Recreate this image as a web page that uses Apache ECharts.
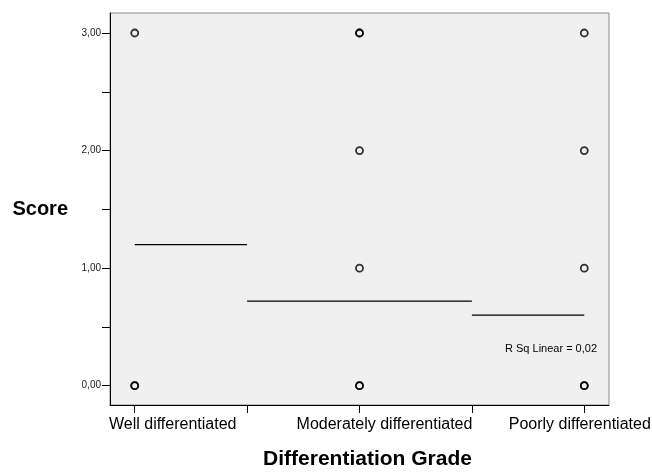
<!DOCTYPE html>
<html>
<head>
<meta charset="utf-8">
<script src="https://cdn.jsdelivr.net/npm/echarts@6/dist/echarts.min.js"></script>
<style>
  html, body { margin: 0; padding: 0; background: #fff; }
  #chart { width: 652px; height: 472px; }
</style>
</head>
<body>
<div id="chart"></div>
<script>
// categories on the x axis (positions 1, 2, 3)
const categories = ['Well differentiated', 'Moderately differentiated', 'Poorly differentiated'];
// observed scores per group (repeated values overlap)
const wellScores = [0, 0, 3];
const moderateScores = [0, 0, 1, 2, 3, 3];
const poorlyScores = [0, 0, 1, 2, 3];
// fitted level per group
const meanScores = [1.2, 0.72, 0.6];
const yTicks = [0, 1, 2, 3];
const rSqText = 'R Sq Linear = 0,02';

// scatter points: [category position, score]
const points = [];
[wellScores, moderateScores, poorlyScores].forEach((arr, i) => {
  arr.forEach(v => points.push([i + 1, v]));
});

// one horizontal segment per group
const segments = meanScores.map((m, i) => {
  const c = i + 1;
  return {
    type: 'line',
    data: [[Math.max(1, c - 0.5), m], [Math.min(categories.length, c + 0.5), m]],
    symbol: 'none',
    lineStyle: { color: '#000', width: 1.2 },
    silent: true,
    z: 3
  };
});

// label nudges so they sit like in the original figure
const labelPad = [[0, 0, 0, 76], [0, 0, 0, 50], [0, 9, 0, 0]];

const chart = echarts.init(document.getElementById('chart'));
chart.setOption({
  animation: false,
  textStyle: { fontFamily: 'Liberation Sans, Arial, sans-serif' },
  grid: {
    left: 110, right: 43, top: 13, bottom: 67,
    containLabel: false,
    outerBoundsMode: 'none',
    show: true,
    backgroundColor: '#f0f0f0',
    borderColor: '#8a8a8a',
    borderWidth: 1
  },
  xAxis: {
    type: 'value',
    min: 0.89,
    max: 3.11,
    name: 'Differentiation Grade',
    nameLocation: 'middle',
    nameGap: 44,
    nameTextStyle: {
      fontSize: 21, fontWeight: 'bold', color: '#000',
      padding: [0, 0, 0, 16]
    },
    axisLine: { onZero: false, lineStyle: { color: '#000', width: 1 } },
    axisTick: {
      show: true, length: 8, inside: false,
      customValues: [1, 1.5, 2, 2.5, 3],
      lineStyle: { color: '#000' }
    },
    axisLabel: {
      customValues: [1, 2, 3],
      margin: 12,
      color: '#000',
      fontSize: 16,
      formatter: v => {
        const i = Math.round(v) - 1;
        return '{c' + i + '|' + categories[i] + '}';
      },
      rich: {
        c0: { fontSize: 16, color: '#000', padding: labelPad[0] },
        c1: { fontSize: 16, color: '#000', padding: labelPad[1] },
        c2: { fontSize: 16, color: '#000', padding: labelPad[2] }
      }
    },
    splitLine: { show: false }
  },
  yAxis: {
    type: 'value',
    min: -0.164,
    max: 3.17,
    name: 'Score',
    nameLocation: 'middle',
    nameRotate: 0,
    nameGap: 42,
    nameTextStyle: { fontSize: 20, fontWeight: 'bold', color: '#000' },
    axisLine: { show: true, onZero: false, lineStyle: { color: '#000', width: 1 } },
    axisTick: {
      show: true, length: 8, inside: false,
      customValues: [0, 0.5, 1, 1.5, 2, 2.5, 3],
      lineStyle: { color: '#000' }
    },
    axisLabel: {
      customValues: yTicks,
      margin: 9,
      fontSize: 10,
      color: '#222',
      formatter: v => v.toFixed(2).replace('.', ',')
    },
    splitLine: { show: false }
  },
  graphic: [{
    type: 'text',
    left: 505,
    top: 343,
    style: { text: rSqText, fontSize: 11, fill: '#000', fontFamily: 'Liberation Sans, Arial, sans-serif' }
  }],
  series: [{
    type: 'scatter',
    data: points,
    symbol: 'circle',
    symbolSize: 7,
    itemStyle: { color: 'rgba(0,0,0,0)', borderColor: '#000', borderWidth: 1.8 },
    z: 4
  }].concat(segments)
});
</script>
</body>
</html>
